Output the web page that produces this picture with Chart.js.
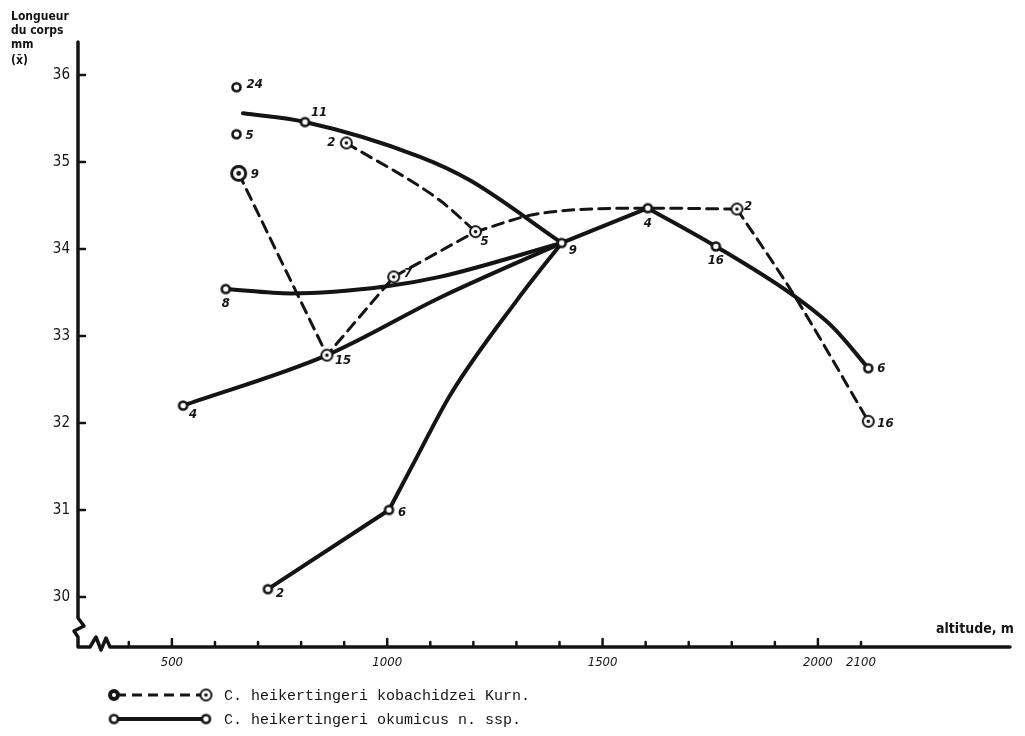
<!DOCTYPE html>
<html lang="fr">
<head>
<meta charset="utf-8">
<title>Longueur du corps et altitude</title>
<script src="https://cdn.jsdelivr.net/npm/chart.js@4.4.1/dist/chart.umd.min.js"></script>
<style>
  html, body { margin: 0; padding: 0; background: #fff; }
</style>
</head>
<body>
<canvas id="grafico" width="1025" height="736"></canvas>
<script>
// =================== DATOS ===================
// ejes
const ticksAltitud = [500, 1000, 1500, 2000, 2100];
const ticksMenores = [400, 500, 600, 700, 800, 900, 1000, 1100, 1200, 1300, 1400, 1500, 1600, 1700, 1800, 1900, 2000, 2100];
const ticksLongitud = [30, 31, 32, 33, 34, 35, 36];

// C. heikertingeri kobachidzei Kurn. (línea discontinua)
const kobTramo1Alt = [655, 860, 1015, 1205];
const kobTramo1Lon = [34.87, 32.78, 33.68, 34.20];
const kobTramo2Alt = [905, 1122, 1205];
const kobTramo2Lon = [35.22, 34.56, 34.20];
const kobTramo3Alt = [1205, 1355, 1605, 1812];
const kobTramo3Lon = [34.20, 34.41, 34.47, 34.46];
const kobTramo4Alt = [1812, 1942, 2117];
const kobTramo4Lon = [34.46, 33.49, 32.02];
// puntos medidos y tamaño de muestra
const kobPuntosAlt = [655, 905, 860, 1015, 1205, 1812, 2117];
const kobPuntosLon = [34.87, 35.22, 32.78, 33.68, 34.20, 34.46, 32.02];
const kobPuntosN = ['9', '2', '15', '7', '5', '2', '16'];

// C. heikertingeri okumicus n. ssp. (línea continua)
const okuTramo1Alt = [665, 809, 1076, 1192, 1405];
const okuTramo1Lon = [35.56, 35.46, 35.06, 34.79, 34.07];
const okuTramo2Alt = [625, 777, 995, 1122, 1405];
const okuTramo2Lon = [33.54, 33.49, 33.57, 33.68, 34.07];
const okuTramo3Alt = [526, 860, 1122, 1405];
const okuTramo3Lon = [32.20, 32.78, 33.44, 34.07];
const okuTramo4Alt = [723, 1004];
const okuTramo4Lon = [30.09, 31.00];
const okuTramo5Alt = [1004, 1069, 1146, 1301, 1405];
const okuTramo5Lon = [31.00, 31.61, 32.32, 33.41, 34.07];
const okuTramo6Alt = [1405, 1605];
const okuTramo6Lon = [34.07, 34.47];
const okuTramo7Alt = [1605, 1763, 1942, 2035, 2117];
const okuTramo7Lon = [34.47, 34.03, 33.47, 33.10, 32.63];
const okuPuntosAlt = [650, 650, 809, 625, 526, 723, 1004, 1405, 1605, 1763, 2117];
const okuPuntosLon = [35.86, 35.32, 35.46, 33.54, 32.20, 30.09, 31.00, 34.07, 34.47, 34.03, 32.63];
const okuPuntosN = ['24', '5', '11', '8', '4', '2', '6', '9', '4', '16', '6'];

// =================== ESTILO ===================
const TINTA = '#141414';
const FUENTE_MANO = '"DejaVu Sans Condensed", "Liberation Sans Narrow", sans-serif';
// posición de cada número respecto a su punto: [dx, dy, alineación]
const desplazKob = [[12, 1, 'left'], [-11, 0, 'right'], [8, 5, 'left'], [10, -3, 'left'], [5, 10, 'left'], [7, -2, 'left'], [9, 2, 'left']];
const desplazOku = [[10, -3, 'left'], [9, 1, 'left'], [6, -9, 'left'], [0, 15, 'center'], [6, 9, 'left'],
  [8, 4, 'left'], [9, 3, 'left'], [7, 8, 'left'], [0, 15, 'center'], [0, 14, 'center'], [9, 0, 'left']];

// =================== UTILIDADES ===================
/** Dibuja un círculo (con o sin punto central) en un canvas pequeño para usarlo como pointStyle */
function marcador(radio, grosor, punto) {
  const t = Math.ceil(radio * 2 + grosor + 2);
  const c = document.createElement('canvas');
  c.width = t; c.height = t;
  const ctx = c.getContext('2d');
  ctx.beginPath();
  ctx.arc(t / 2, t / 2, radio, 0, Math.PI * 2);
  ctx.fillStyle = '#fff';
  ctx.fill();
  ctx.lineWidth = grosor;
  ctx.strokeStyle = TINTA;
  ctx.stroke();
  if (punto) {
    ctx.beginPath();
    ctx.arc(t / 2, t / 2, punto, 0, Math.PI * 2);
    ctx.fillStyle = TINTA;
    ctx.fill();
  }
  return c;
}

const mKob = marcador(5.5, 2, 1.8);
const mKobGrande = marcador(7, 3, 2.4);
const mOku = marcador(4, 2.6, 0);
const mLeyendaKob = marcador(4, 4, 0);

function puntos(alt, lon) {
  return alt.map((x, i) => ({ x, y: lon[i] }));
}

function tramo(alt, lon, discontinua, curva) {
  return {
    type: 'line',
    data: puntos(alt, lon),
    borderColor: TINTA,
    borderWidth: discontinua ? 3 : 4,
    borderDash: discontinua ? [11, 7] : [],
    borderCapStyle: 'round',
    pointRadius: 0,
    fill: false,
    tension: curva ? 0.4 : 0,
    cubicInterpolationMode: curva ? 'monotone' : 'default',
    order: 1
  };
}

// =================== PLUGIN: ejes, números y leyenda ===================
const dibujoManual = {
  id: 'dibujoManual',
  beforeDatasetsDraw(chart) {
    const { ctx, scales: { x, y } } = chart;
    const x0 = x.left, yb = y.bottom;
    ctx.save();
    ctx.strokeStyle = TINTA;
    ctx.lineJoin = 'round';
    ctx.lineCap = 'round';
    ctx.lineWidth = 3.5;
    // ejes con sus cortes
    ctx.beginPath();
    ctx.moveTo(x0, y.top);
    ctx.lineTo(x0, yb - 29);
    ctx.lineTo(x0 + 6, yb - 21);
    ctx.lineTo(x0 - 4, yb - 16);
    ctx.lineTo(x0, yb - 10);
    ctx.lineTo(x0, yb);
    ctx.lineTo(x0 + 12, yb);
    ctx.lineTo(x0 + 18, yb - 10);
    ctx.lineTo(x0 + 23, yb + 3);
    ctx.lineTo(x0 + 28, yb - 9);
    ctx.lineTo(x0 + 32, yb);
    ctx.lineTo(x.right, yb);
    ctx.stroke();
    // marcas
    ctx.lineWidth = 2.5;
    ticksMenores.forEach(v => {
      const px = x.getPixelForValue(v);
      const largo = (v % 500 === 0) ? 8 : 5;
      ctx.beginPath();
      ctx.moveTo(px, yb);
      ctx.lineTo(px, yb - largo);
      ctx.stroke();
    });
    ticksLongitud.forEach(v => {
      const py = y.getPixelForValue(v);
      ctx.beginPath();
      ctx.moveTo(x0, py);
      ctx.lineTo(x0 + 7, py);
      ctx.stroke();
    });
    ctx.restore();
  },
  afterDraw(chart) {
    const { ctx } = chart;
    ctx.save();
    ctx.fillStyle = TINTA;
    ctx.textBaseline = 'middle';

    // números junto a los puntos
    ctx.font = 'italic bold 13px ' + FUENTE_MANO;
    [[0, kobPuntosN, desplazKob], [1, okuPuntosN, desplazOku]].forEach(([idx, textos, desp]) => {
      const meta = chart.getDatasetMeta(idx);
      meta.data.forEach((el, i) => {
        const [dx, dy, al] = desp[i];
        ctx.textAlign = al;
        ctx.fillText(textos[i], el.x + dx, el.y + dy);
      });
    });

    // títulos de ejes
    ctx.textAlign = 'left';
    ctx.font = 'bold 12px ' + FUENTE_MANO;
    ctx.fillText('Longueur', 11, 17);
    ctx.fillText('du corps', 11, 31);
    ctx.fillText('mm', 11, 45);
    ctx.fillText('(x\u0304)', 11, 61);
    ctx.font = 'bold 14px ' + FUENTE_MANO;
    ctx.fillText('altitude, m', 936, 629);

    // leyenda
    const filas = [
      { y: 695, dash: [10, 6], ancho: 3, izq: mLeyendaKob, der: mKob, texto: 'C. heikertingeri kobachidzei Kurn.' },
      { y: 719, dash: [], ancho: 4, izq: mOku, der: mOku, texto: 'C. heikertingeri okumicus n. ssp.' }
    ];
    filas.forEach(f => {
      ctx.strokeStyle = TINTA;
      ctx.lineWidth = f.ancho;
      ctx.setLineDash(f.dash);
      ctx.beginPath();
      ctx.moveTo(116, f.y);
      ctx.lineTo(204, f.y);
      ctx.stroke();
      ctx.setLineDash([]);
      ctx.drawImage(f.izq, 114 - f.izq.width / 2, f.y - f.izq.height / 2);
      ctx.drawImage(f.der, 206 - f.der.width / 2, f.y - f.der.height / 2);
      ctx.font = '15px "Liberation Mono", "DejaVu Sans Mono", monospace';
      ctx.fillText(f.texto, 224, f.y + 1);
    });
    ctx.restore();
  }
};

// =================== GRÁFICO ===================
document.addEventListener('DOMContentLoaded', () => {
  const canvas = document.getElementById('grafico');

  new Chart(canvas, {
    data: {
      datasets: [
        {
          type: 'scatter',
          label: 'C. heikertingeri kobachidzei Kurn.',
          data: puntos(kobPuntosAlt, kobPuntosLon),
          pointStyle: c => (c.dataIndex === 0 ? mKobGrande : mKob),
          pointRadius: 6,
          order: 0
        },
        {
          type: 'scatter',
          label: 'C. heikertingeri okumicus n. ssp.',
          data: puntos(okuPuntosAlt, okuPuntosLon),
          pointStyle: mOku,
          pointRadius: 5,
          order: 0
        },
        tramo(kobTramo1Alt, kobTramo1Lon, true, false),
        tramo(kobTramo2Alt, kobTramo2Lon, true, true),
        tramo(kobTramo3Alt, kobTramo3Lon, true, true),
        tramo(kobTramo4Alt, kobTramo4Lon, true, true),
        tramo(okuTramo1Alt, okuTramo1Lon, false, true),
        tramo(okuTramo2Alt, okuTramo2Lon, false, true),
        tramo(okuTramo3Alt, okuTramo3Lon, false, true),
        tramo(okuTramo4Alt, okuTramo4Lon, false, false),
        tramo(okuTramo5Alt, okuTramo5Lon, false, true),
        tramo(okuTramo6Alt, okuTramo6Lon, false, false),
        tramo(okuTramo7Alt, okuTramo7Lon, false, true)
      ]
    },
    options: {
      responsive: false,
      animation: false,
      devicePixelRatio: 1,
      layout: { padding: { top: 42, right: 15, left: 0, bottom: 0 } },
      plugins: { legend: { display: false }, tooltip: { enabled: false } },
      scales: {
        x: {
          type: 'linear',
          min: 282,
          max: 2446,
          afterBuildTicks: s => { s.ticks = ticksAltitud.map(v => ({ value: v })); },
          afterFit: s => { s.height = 89; },
          grid: { display: false, drawTicks: false },
          border: { display: false },
          ticks: {
            padding: 8,
            color: TINTA,
            autoSkip: false,
            maxRotation: 0,
            callback: v => String(v),
            font: { family: FUENTE_MANO, size: 13, style: 'italic' }
          }
        },
        y: {
          type: 'linear',
          min: 29.425,
          max: 36.38,
          afterBuildTicks: s => { s.ticks = ticksLongitud.map(v => ({ value: v })); },
          afterFit: s => { s.width = 78; },
          grid: { display: false, drawTicks: false },
          border: { display: false },
          ticks: {
            padding: 8,
            color: TINTA,
            callback: v => String(v),
            font: { family: FUENTE_MANO, size: 15 }
          }
        }
      }
    },
    plugins: [dibujoManual]
  });
});
</script>
</body>
</html>
